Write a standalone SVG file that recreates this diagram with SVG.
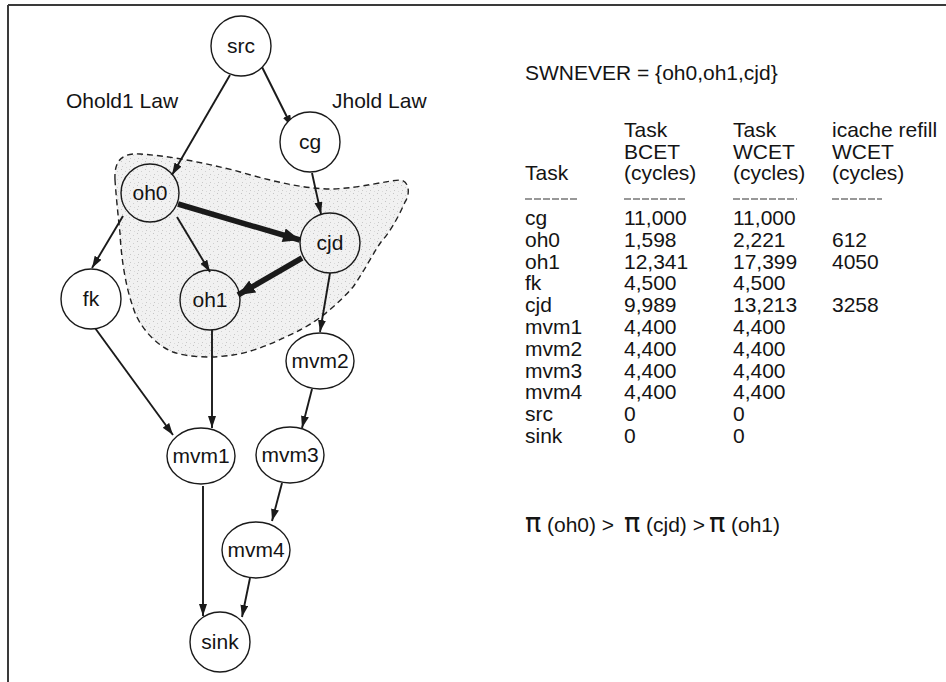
<svg xmlns="http://www.w3.org/2000/svg" width="946" height="682" viewBox="0 0 946 682">
  <defs>
    <style>
      text { font-family: "Liberation Sans", Arial, sans-serif; font-size: 21px; fill: #141414; }
      .node circle, .node ellipse { fill: #ffffff; stroke: #1a1a1a; stroke-width: 1.4; }
      .node.shaded circle { fill: none; }
      .node text { text-anchor: middle; }
      .edge { stroke: #1a1a1a; stroke-width: 1.9; fill: none; marker-end: url(#arrow); }
      .edge.heavy { stroke-width: 5.5; marker-end: url(#arrowHeavy); }
      .rule { stroke: #333; stroke-width: 1.2; stroke-dasharray: 7 2; }
      .pi { font-family: "DejaVu Sans", sans-serif; font-size: 27px; }
    </style>
    <marker id="arrow" markerUnits="userSpaceOnUse" markerWidth="14" markerHeight="10" refX="12" refY="4" orient="auto">
      <path d="M0,0 L12,4 L0,8 Z" fill="#1a1a1a"/>
    </marker>
    <marker id="arrowHeavy" markerUnits="userSpaceOnUse" markerWidth="20" markerHeight="16" refX="17" refY="7" orient="auto">
      <path d="M0,0 L17,7 L0,14 Z" fill="#1a1a1a"/>
    </marker>
    <!-- light stipple used for the SWNEVER group -->
    <pattern id="stipple" width="8" height="8" patternUnits="userSpaceOnUse">
      <rect width="8" height="8" fill="#f1f1f1"/>
      <rect x="1" y="1" width="1" height="1" fill="#c4c4c4"/>
      <rect x="5" y="3" width="1" height="1" fill="#cfcfcf"/>
      <rect x="2" y="6" width="1" height="1" fill="#c8c8c8"/>
      <rect x="6" y="7" width="1" height="1" fill="#dadada"/>
    </pattern>
  </defs>

  <rect width="946" height="682" fill="#ffffff"/>

  <!-- frame (top and left edges) -->
  <line x1="8" y1="5" x2="946" y2="5" stroke="#3a3a3a" stroke-width="2"/>
  <line x1="8" y1="5" x2="8" y2="682" stroke="#3a3a3a" stroke-width="2"/>

  <!-- SWNEVER region -->
  <path id="swnever-region" d="M115,180 C114,160 122,153 140,154 C170,156 200,162 233,170 C265,179 300,189 333,189 C360,188 385,181 400,180 C410,181 410,195 405,202 C398,218 390,232 381,242 C372,255 365,270 353,287 C340,302 320,320 300,330 C280,340 255,352 233,355 C215,358 190,358 173,352 C155,345 138,325 133,307 C125,285 121,255 120,233 C118,215 116,195 115,180 Z" fill="url(#stipple)" stroke="#222" stroke-width="1.4" stroke-dasharray="6 4"/>

  <!-- connectors -->
  <g id="connectors">
    <line class="edge" x1="230" y1="75" x2="172" y2="175"/>
    <line class="edge" x1="262" y1="67" x2="292" y2="127"/>
    <line class="edge" x1="312" y1="173" x2="321" y2="214"/>
    <line class="edge heavy" x1="178" y1="204" x2="300" y2="240"/>
    <line class="edge" x1="123" y1="216" x2="92" y2="268"/>
    <line class="edge" x1="177" y1="217" x2="210" y2="272"/>
    <line class="edge heavy" x1="302" y1="258" x2="238" y2="295"/>
    <line class="edge" x1="330" y1="273" x2="320" y2="332"/>
    <line class="edge" x1="95" y1="328" x2="173" y2="435"/>
    <line class="edge" x1="212" y1="330" x2="212" y2="428"/>
    <line class="edge" x1="312" y1="389" x2="302" y2="428"/>
    <line class="edge" x1="282" y1="483" x2="272" y2="521"/>
    <line class="edge" x1="203" y1="486" x2="203" y2="616"/>
    <line class="edge" x1="250" y1="578" x2="242" y2="617"/>
  </g>

  <!-- task nodes -->
  <g id="node-src" class="node"><circle cx="241" cy="46" r="30"/><text x="241" y="53">src</text></g>
  <g id="node-cg" class="node"><circle cx="310" cy="142" r="30"/><text x="310" y="149">cg</text></g>
  <g id="node-oh0" class="node shaded"><circle cx="150" cy="193" r="29"/><text x="150" y="200">oh0</text></g>
  <g id="node-cjd" class="node shaded"><circle cx="330" cy="243" r="30"/><text x="330" y="250">cjd</text></g>
  <g id="node-fk" class="node"><circle cx="91" cy="299" r="30"/><text x="91" y="306">fk</text></g>
  <g id="node-oh1" class="node shaded"><circle cx="210" cy="300" r="30"/><text x="210" y="307">oh1</text></g>
  <g id="node-mvm2" class="node"><ellipse cx="320" cy="361" rx="34" ry="28"/><text x="320" y="368">mvm2</text></g>
  <g id="node-mvm1" class="node"><ellipse cx="201" cy="456" rx="34" ry="28"/><text x="201" y="463">mvm1</text></g>
  <g id="node-mvm3" class="node"><ellipse cx="290" cy="455" rx="34" ry="28"/><text x="290" y="462">mvm3</text></g>
  <g id="node-mvm4" class="node"><ellipse cx="256" cy="550" rx="34" ry="28"/><text x="256" y="557">mvm4</text></g>
  <g id="node-sink" class="node"><circle cx="220" cy="642" r="30"/><text x="220" y="649">sink</text></g>

  <!-- control law labels -->
  <text x="66" y="108">Ohold1 Law</text>
  <text x="332" y="108">Jhold Law</text>

  <!-- timing table -->
  <g id="table">
    <text x="525" y="80">SWNEVER = {oh0,oh1,cjd}</text>

    <text x="624" y="137">Task</text>
    <text x="733" y="137">Task</text>
    <text x="832" y="137">icache refill</text>
    <text x="624" y="159">BCET</text>
    <text x="733" y="159">WCET</text>
    <text x="832" y="159">WCET</text>
    <text x="525" y="180">Task</text>
    <text x="624" y="180">(cycles)</text>
    <text x="733" y="180">(cycles)</text>
    <text x="832" y="180">(cycles)</text>

    <line class="rule" x1="525" y1="199" x2="577" y2="199"/>
    <line class="rule" x1="624" y1="199" x2="687" y2="199"/>
    <line class="rule" x1="733" y1="199" x2="797" y2="199"/>
    <line class="rule" x1="832" y1="199" x2="882" y2="199"/>

    <text x="525" y="225">cg</text><text x="624" y="225">11,000</text><text x="733" y="225">11,000</text>
    <text x="525" y="247">oh0</text><text x="624" y="247">1,598</text><text x="733" y="247">2,221</text><text x="832" y="247">612</text>
    <text x="525" y="269">oh1</text><text x="624" y="269">12,341</text><text x="733" y="269">17,399</text><text x="832" y="269">4050</text>
    <text x="525" y="290">fk</text><text x="624" y="290">4,500</text><text x="733" y="290">4,500</text>
    <text x="525" y="312">cjd</text><text x="624" y="312">9,989</text><text x="733" y="312">13,213</text><text x="832" y="312">3258</text>
    <text x="525" y="334">mvm1</text><text x="624" y="334">4,400</text><text x="733" y="334">4,400</text>
    <text x="525" y="356">mvm2</text><text x="624" y="356">4,400</text><text x="733" y="356">4,400</text>
    <text x="525" y="378">mvm3</text><text x="624" y="378">4,400</text><text x="733" y="378">4,400</text>
    <text x="525" y="399">mvm4</text><text x="624" y="399">4,400</text><text x="733" y="399">4,400</text>
    <text x="525" y="421">src</text><text x="624" y="421">0</text><text x="733" y="421">0</text>
    <text x="525" y="443">sink</text><text x="624" y="443">0</text><text x="733" y="443">0</text>
  </g>

  <!-- priority ordering -->
  <text y="532"><tspan class="pi" x="525">π</tspan><tspan x="547">(oh0) &gt;</tspan><tspan class="pi" x="624">π</tspan><tspan x="646">(cjd) &gt;</tspan><tspan class="pi" x="709">π</tspan><tspan x="731">(oh1)</tspan></text>
</svg>
